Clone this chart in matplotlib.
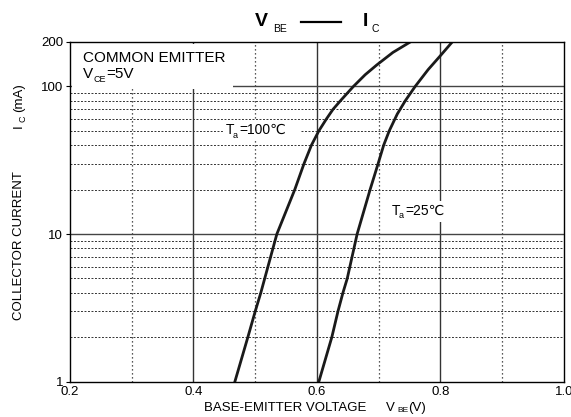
import numpy as np
import matplotlib.pyplot as plt
from matplotlib.lines import Line2D
from matplotlib.patches import Rectangle

plt.rcParams['font.family'] = ['Liberation Sans', 'DejaVu Sans']

# V_BE vs I_C curves (V, mA)
vbe_100 = [0.467, 0.488, 0.500, 0.509, 0.535, 0.564, 0.579, 0.591, 0.603, 0.615, 0.626,
           0.638, 0.659, 0.678, 0.697, 0.723, 0.751]
ic_100 = [1, 2, 3, 4, 10, 20, 30, 40, 50, 60, 70, 80, 100, 120, 140, 170, 200]
vbe_25 = [0.603, 0.624, 0.634, 0.642, 0.649, 0.665, 0.686, 0.699, 0.708, 0.717, 0.730,
          0.743, 0.759, 0.780, 0.799, 0.819]
ic_25 = [1, 2, 3, 4, 5, 10, 20, 30, 40, 50, 65, 80, 100, 130, 160, 200]

x_ticks = [0.2, 0.4, 0.6, 0.8, 1.0]
x_ticklabels = ['0.2', '0.4', '0.6', '0.8', '1.0']
y_ticks = [1, 10, 100, 200]
y_ticklabels = ['1', '10', '100', '200']

v_major = [0.4, 0.6, 0.8]
v_minor = [0.3, 0.5, 0.7, 0.9]
i_major = [10, 100]
i_minor = [2, 3, 4, 5, 6, 7, 8, 9, 20, 30, 40, 50, 60, 70, 80, 90]

W, H = 571, 417


def px(x, y):
    # pixel position (from top-left) -> figure fraction
    return x / W, 1 - y / H


fig = plt.figure(figsize=(W / 100, H / 100), dpi=100)
ax = fig.add_axes([0.1226, 0.0847, 0.8651, 0.8146])
ax.set_yscale('log')
ax.set_xlim(0.2, 1.0)
ax.set_ylim(1, 200)

# grid
for v in v_major:
    ax.axvline(v, color='#333333', lw=1.0, zorder=1)
for v in v_minor:
    ax.axvline(v, color='#222222', lw=0.9, ls=(0, (1, 2.2)), zorder=1)
for i in i_major:
    ax.axhline(i, color='#444444', lw=1.0, zorder=1)
for i in i_minor:
    ax.axhline(i, color='#333333', lw=0.7, ls=(0, (2, 1.6)), zorder=1)

# white box behind the conditions text
ax.add_patch(Rectangle((0.004, 0.862), 0.326, 0.132, transform=ax.transAxes,
                       facecolor='white', edgecolor='none', zorder=2))

ax.plot(vbe_100, ic_100, color='#1a1a1a', lw=2.0, zorder=4)
ax.plot(vbe_25, ic_25, color='#1a1a1a', lw=2.0, zorder=4)

ax.set_xticks(x_ticks)
ax.set_xticklabels(x_ticklabels)
ax.set_yticks(y_ticks)
ax.set_yticklabels(y_ticklabels)
ax.minorticks_off()
ax.tick_params(axis='x', length=0, labelsize=9.5, pad=3)
ax.tick_params(axis='y', length=3, labelsize=9.5, pad=2)
for s in ax.spines.values():
    s.set_linewidth(1.0)
    s.set_zorder(5)

fig.text(*px(83, 58), 'COMMON EMITTER', fontsize=11, va='center', ha='left', zorder=6)
fig.text(*px(83, 74), 'V', fontsize=11, va='center', ha='left', zorder=6)
fig.text(*px(94, 79), 'CE', fontsize=6.5, va='center', ha='left', zorder=6)
fig.text(*px(106, 74), '=5V', fontsize=11, va='center', ha='left', zorder=6)

# curve labels on white patches
ax.add_patch(Rectangle(px(224, 140), 76 / W, 19 / H, transform=fig.transFigure,
                       facecolor='white', edgecolor='none', zorder=3))
fig.text(*px(226, 130), 'T', fontsize=10, va='center', ha='left', zorder=6)
fig.text(*px(233, 135), 'a', fontsize=6.5, va='center', ha='left', zorder=6)
fig.text(*px(239, 130), '=100℃', fontsize=10, va='center', ha='left', zorder=6)

ax.add_patch(Rectangle(px(389, 222), 62 / W, 21 / H, transform=fig.transFigure,
                       facecolor='white', edgecolor='none', zorder=3))
fig.text(*px(392, 211), 'T', fontsize=10, va='center', ha='left', zorder=6)
fig.text(*px(399, 216), 'a', fontsize=6.5, va='center', ha='left', zorder=6)
fig.text(*px(405, 211), '=25℃', fontsize=10, va='center', ha='left', zorder=6)

# heading: V_BE  ---  I_C
fig.text(*px(255, 22), 'V', fontsize=14, fontweight='bold', ha='left', va='center')
fig.text(*px(273, 29), 'BE', fontsize=7.5, ha='left', va='center')
fig.add_artist(Line2D([301 / W, 341 / W], [1 - 22 / H, 1 - 22 / H],
                      color='black', lw=1.6, transform=fig.transFigure))
fig.text(*px(363, 22), 'I', fontsize=14, fontweight='bold', ha='left', va='center')
fig.text(*px(371, 29), 'C', fontsize=7.5, ha='left', va='center')

# axis titles
fig.text(*px(19, 246), 'COLLECTOR CURRENT', fontsize=9.5, rotation=90,
         ha='center', va='center')
fig.text(*px(19, 126), 'I', fontsize=9.5, rotation=90, ha='center', va='center')
fig.text(*px(23, 119), 'C', fontsize=6.5, rotation=90, ha='center', va='center')
fig.text(*px(19, 98), '(mA)', fontsize=9.5, rotation=90, ha='center', va='center')
fig.text(*px(285, 408), 'BASE-EMITTER VOLTAGE', fontsize=9.5, ha='center', va='center')
fig.text(*px(390, 408), 'V', fontsize=9.5, ha='center', va='center')
fig.text(*px(403, 411), 'BE', fontsize=6, ha='center', va='center')
fig.text(*px(417, 408), '(V)', fontsize=9.5, ha='center', va='center')

fig.savefig('out.png', dpi=100)
